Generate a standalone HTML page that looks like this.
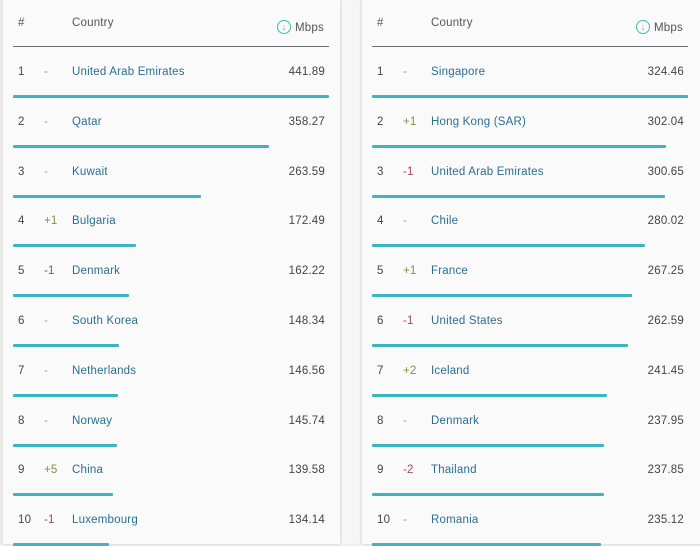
<!DOCTYPE html>
<html><head><meta charset="utf-8"><style>
body{margin:0;width:700px;height:544px;background:#efefef;font-family:"Liberation Sans",sans-serif;overflow:hidden;position:relative}
.panel{position:absolute;top:0;height:544px;background:#fafafa;box-shadow:0 0 4px rgba(0,0,0,0.12)}
.t{position:absolute;font-size:11.5px;white-space:nowrap;line-height:14px;letter-spacing:0.2px}
.h{color:#555}
.num{color:#444}
.ctry{color:#2b6e8e}
.up{color:#7a9445}.dn{color:#a3485a}.eq{color:#999}
.bar{position:absolute;height:3px;background:#3db4c2;border-radius:1px}
.hl{position:absolute;height:1px;background:#6a6f7a}
</style></head><body>
<div class="panel" style="left:3px;width:337px"></div>
<div class="panel" style="left:342px;width:18px;background:#f6f6f6;box-shadow:none"></div>
<div class="panel" style="left:362px;width:340px"></div>
<div id="root"></div>
<script>
const leftCountries=["United Arab Emirates","Qatar","Kuwait","Bulgaria","Denmark","South Korea","Netherlands","Norway","China","Luxembourg"];
const leftValues=[441.89,358.27,263.59,172.49,162.22,148.34,146.56,145.74,139.58,134.14];
const leftChanges=["-","-","-","+1","-1","-","-","-","+5","-1"];
const rightCountries=["Singapore","Hong Kong (SAR)","United Arab Emirates","Chile","France","United States","Iceland","Denmark","Thailand","Romania"];
const rightValues=[324.46,302.04,300.65,280.02,267.25,262.59,241.45,237.95,237.85,235.12];
const rightChanges=["-","+1","-1","-","+1","-1","+2","-","-2","-"];
const root=document.getElementById('root');
function add(cls,left,top,text,extra){
  const d=document.createElement('div');d.className=cls;
  d.style.left=left+'px';d.style.top=top+'px';
  if(text!==undefined)d.textContent=text;
  if(extra)Object.assign(d.style,extra);
  root.appendChild(d);return d;
}
function table(x0,countries,values,changes,side){
  const barW=316, maxV=Math.max(...values);
  const xScale=v=>v/maxV*barW;
  let e;
  e=add('t h',x0+5,16,'#');
  
  e=add('t h',x0+59,16,'Country');
  
  e=add('t h',x0+282,21,'Mbps');
  
  e=add('',x0+264,20,'↓',{position:'absolute',width:'12px',height:'12px',border:'1px solid #3dbdb0',borderRadius:'50%',color:'#3dbdb0',fontSize:'9px',lineHeight:'12px',textAlign:'center'});
  
  e=add('hl',x0,46,undefined,{width:'316px'});
  
  countries.forEach((c,i)=>{
    const y=65+i*49.8;
    e=add('t num',x0+5,y,String(i+1));
    
    const ch=changes[i];
    e=add('t '+(ch.startsWith('+')?'up':ch==='-'?'eq':'dn'),x0+31,y,ch);
    
    e=add('t ctry',x0+59,y,c);
    
    e=add('t num',0,y,values[i].toFixed(2),{left:'auto',right:(700-(x0+312))+'px'});
    
    e=add('bar',x0,y+30,undefined,{width:xScale(values[i])+'px'});
    
  });
}
table(13,leftCountries,leftValues,leftChanges,'left');
table(372,rightCountries,rightValues,rightChanges,'right');
</script>
</body></html>
